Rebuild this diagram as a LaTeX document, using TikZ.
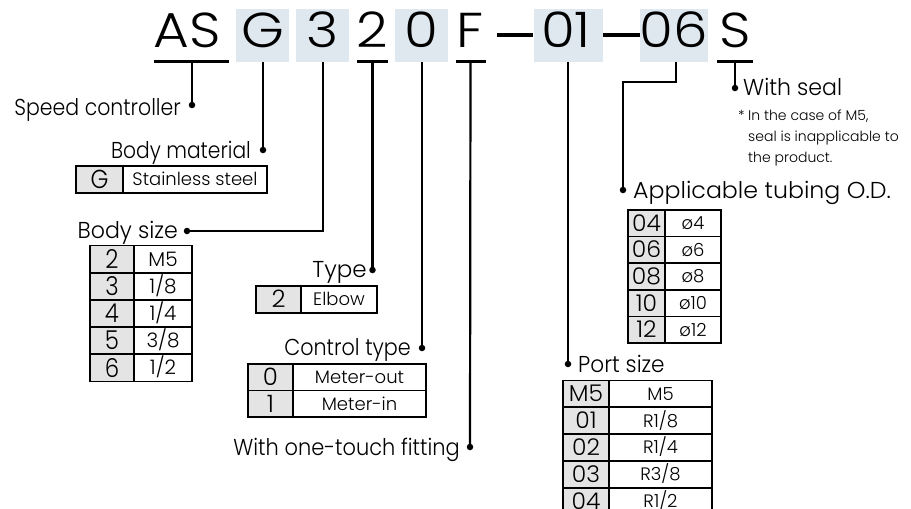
\documentclass[tikz,border=0pt]{standalone}
\usepackage{fontspec}
\IfFontExistsTF{Poppins Light}
  {\newcommand\myfamname{Poppins Light}}
  {\newcommand\myfamname{Poppins}}
\setmainfont{\myfamname}
\newfontfamily\codefont{\myfamname}[FakeStretch=1.12]
\newfontfamily\labfont{\myfamname}
\newfontfamily\keyfont{\myfamname}[FakeStretch=1.02]
\newfontfamily\keynarrow{\myfamname}[FakeStretch=0.88]
\definecolor{codeblue}{HTML}{DFE7EF}
\definecolor{cellgray}{HTML}{E4E4E4}
\newcommand\tabrow[8]{%
  \node[kcell, minimum width=#4, minimum height=#6] (#1k) at (#2,#3) {#7};
  \node[dcell, minimum width=#5, minimum height=#6] (#1d) at (#1k.north east) {#8};}
\newcommand\sx[2]{\scalebox{#1}[1]{#2}}
\begin{document}
\begin{tikzpicture}[x=1pt,y=-1pt,
  code/.style={font=\codefont\fontsize{49}{49}\selectfont, anchor=base, inner sep=0pt},
  lab/.style={font=\labfont\fontsize{23}{23}\selectfont, inner sep=0pt},
  conn/.style={line width=2.2pt},
  dot/.style={circle, fill=black, inner sep=0pt, minimum size=6.5pt},
  hl/.style={fill=codeblue, draw=none},
  uline/.style={line width=3pt},
  kcell/.style={draw, fill=cellgray, line width=1.7pt, anchor=north west, inner sep=0pt, outer sep=0pt,
     font=\keyfont\fontsize{23}{23}\selectfont, text height=16.1pt, text depth=0pt},
  dcell/.style={draw, fill=white, line width=1.7pt, anchor=north west, inner sep=0pt, outer sep=0pt,
     font=\labfont\fontsize{18}{18}\selectfont, text height=12.6pt, text depth=0pt},
  bigkey/.style={kcell/.append style={font=\keynarrow\fontsize{26}{26}\selectfont, text height=18.2pt}},
  note/.style={font=\labfont\fontsize{14}{21}\selectfont, inner sep=0pt, align=left, anchor=base west}]
\useasboundingbox (0,0) rectangle (911,509);
\clip (0,0) rectangle (911,509);
\fill[white] (0,0) rectangle (911,509);
% code highlight boxes
\fill[hl] (236,9) rectangle (289,62);
\fill[hl] (296,9) rectangle (349,62);
\fill[hl] (395,9) rectangle (448,62);
\fill[hl] (534,9) rectangle (603,62);
\fill[hl] (640,9) rectangle (708,62);
% code letters
\node[code] (cAS) at (187,47) {AS};
\node[code] (cG) at (262.5,47) {G};
\node[code] (c3) at (322.5,47) {3};
\node[code] (c2) at (372.5,47) {2};
\node[code] (c0) at (421.5,47) {0};
\node[code] (cF) at (470.5,47) {F};
\node[code] (c01) at (566,47) {01};
\node[code] (c06) at (674,47) {06};
\node[code] (cS) at (735,47) {S};
\draw[line width=3.5pt] (497,35) -- (533,35);
\draw[line width=3.5pt] (603,35) -- (640,35);
% underlines
\draw[uline] (154,61.5) -- (229,61.5);
\draw[uline] (357,61.5) -- (388,61.5);
\draw[uline] (456,61.5) -- (486,61.5);
\draw[uline] (717,61.5) -- (753,61.5);
% anchor points and dots
\coordinate (tAS) at (192,61.5);
\coordinate (tG) at (263,62);
\coordinate (t3) at (323,62);
\coordinate (t2) at (372.5,61.5);
\coordinate (t0) at (422,62);
\coordinate (tF) at (470.5,61.5);
\coordinate (t01) at (568,62);
\coordinate (t06) at (676,62);
\coordinate (tS) at (735,61.5);
\node[dot] (dAS) at (192,105) {};
\node[dot] (dG) at (263,150) {};
\node[dot] (d3) at (187,231) {};
\node[dot] (d2) at (372.5,270) {};
\node[dot] (d0) at (422,348) {};
\node[dot] (dF) at (470,447) {};
\node[dot] (d01) at (568,364) {};
\node[dot] (d06) at (623,190) {};
\node[dot] (dS) at (735,88) {};
\draw[conn] (tAS) -- (dAS.center);
\draw[conn] (tG) -- (dG.center);
\draw[conn] (t3) |- (d3.center);
\draw[conn] (t2) -- (d2.center);
\draw[conn] (t0) -- (d0.center);
\draw[conn] (tF) -- (dF.center);
\draw[conn] (t01) -- (d01.center);
\draw[conn] (t06) -- (676,82) -| (d06.center);
\draw[conn] (tS) -- (dS.center);
% labels
\node[lab, anchor=base east] (lAS) at (181,115) {\sx{0.89}{Speed controller}};
\node[lab, anchor=base east] (lG) at (251,158) {\sx{0.88}{Body material}};
\node[lab, anchor=base east] (l3) at (178,238) {\sx{0.96}{Body size}};
\node[lab, anchor=base east] (l2) at (367,277) {Type};
\node[lab, anchor=base east] (l0) at (411,355) {\sx{0.9}{Control type}};
\node[lab, anchor=base east] (lF) at (460,455) {\sx{0.91}{With one-touch fitting}};
\node[lab, anchor=base west] (l01) at (578,372) {\sx{0.94}{Port size}};
\node[lab, anchor=base west] (l06) at (633,198) {\sx{1.03}{Applicable tubing O.D.}};
\node[lab, anchor=base west] (lS) at (743,95) {\sx{0.96}{With seal}};
\node[note] (star) at (738,120) {*};
\node[note] (ntext) at (748,162) {In the case of M5,\\seal is inapplicable to\\the product.};
% tables
\begin{scope}[bigkey]
\tabrow{bm}{76}{166}{47pt}{144pt}{27pt}{G}{Stainless steel}
\end{scope}
\begin{scope}[bigkey, dcell/.append style={font=\labfont\fontsize{20}{20}\selectfont, text height=14pt}]
\tabrow{bsa}{90}{245.5}{44pt}{58pt}{27.2pt}{2}{M5}
\tabrow{bsb}{90}{272.7}{44pt}{58pt}{27.2pt}{3}{1/8}
\tabrow{bsc}{90}{299.9}{44pt}{58pt}{27.2pt}{4}{1/4}
\tabrow{bsd}{90}{327.1}{44pt}{58pt}{27.2pt}{5}{3/8}
\tabrow{bse}{90}{354.3}{44pt}{58pt}{27.2pt}{6}{1/2}
\end{scope}
\begin{scope}[kcell/.append style={font=\keyfont\fontsize{24}{24}\selectfont, text height=16.8pt}]
\tabrow{ty}{256}{286}{45pt}{76pt}{27pt}{2}{Elbow}
\tabrow{cta}{248}{364}{45pt}{133pt}{26.5pt}{0}{Meter-out}
\tabrow{ctb}{248}{390.5}{45pt}{133pt}{26.5pt}{1}{Meter-in}
\end{scope}
\tabrow{psa}{563}{380.5}{46pt}{103pt}{26.8pt}{M5}{M5}
\tabrow{psb}{563}{407.3}{46pt}{103pt}{26.8pt}{01}{R1/8}
\tabrow{psc}{563}{434.1}{46pt}{103pt}{26.8pt}{02}{R1/4}
\tabrow{psd}{563}{460.9}{46pt}{103pt}{26.8pt}{03}{R3/8}
\tabrow{pse}{563}{487.7}{46pt}{103pt}{26.8pt}{04}{R1/2}
\tabrow{tba}{628}{210}{37pt}{56pt}{26.6pt}{04}{ø4}
\tabrow{tbb}{628}{236.6}{37pt}{56pt}{26.6pt}{06}{ø6}
\tabrow{tbc}{628}{263.2}{37pt}{56pt}{26.6pt}{08}{ø8}
\tabrow{tbd}{628}{289.8}{37pt}{56pt}{26.6pt}{10}{ø10}
\tabrow{tbe}{628}{316.4}{37pt}{56pt}{26.6pt}{12}{ø12}
\end{tikzpicture}
\end{document}
